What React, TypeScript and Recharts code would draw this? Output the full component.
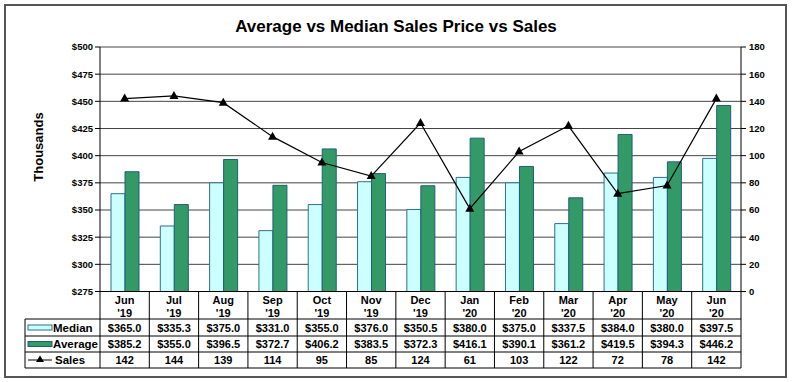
import { ComposedChart, Bar, Line, XAxis, YAxis, CartesianGrid } from 'recharts'

// ─── Data ────────────────────────────────────────────────────────────────
const months = ['Jun', 'Jul', 'Aug', 'Sep', 'Oct', 'Nov', 'Dec', 'Jan', 'Feb', 'Mar', 'Apr', 'May', 'Jun']
const years = ["'19", "'19", "'19", "'19", "'19", "'19", "'19", "'20", "'20", "'20", "'20", "'20", "'20"]
const median = [365.0, 335.3, 375.0, 331.0, 355.0, 376.0, 350.5, 380.0, 375.0, 337.5, 384.0, 380.0, 397.5]
const average = [385.2, 355.0, 396.5, 372.7, 406.2, 383.5, 372.3, 416.1, 390.1, 361.2, 419.5, 394.3, 446.2]
const sales = [142, 144, 139, 114, 95, 85, 124, 61, 103, 122, 72, 78, 142]

const priceTicks = [275, 300, 325, 350, 375, 400, 425, 450, 475, 500]
const salesTicks = [0, 20, 40, 60, 80, 100, 120, 140, 160, 180]

const data = months.map((m, i) => ({
  key: `${m} ${years[i]}`,
  median: median[i],
  average: average[i],
  sales: sales[i],
}))

// ─── Layout ──────────────────────────────────────────────────────────────
const FONT = '"Liberation Sans", Arial, sans-serif'
const W = 792
const H = 382
const PLOT_L = 100
const PLOT_R = 741
const PLOT_T = 47
const PLOT_B = 291.5
const COL_W = (PLOT_R - PLOT_L) / months.length
const TABLE_L = 25
const ROWS = [319, 336, 352, 368]

const MEDIAN_FILL = '#CCFFFF'
const MEDIAN_STROKE = '#2F6E8E'
const AVG_FILL = '#339966'
const AVG_STROKE = '#1F5F7A'

function TriangleDot(props: { cx?: number; cy?: number; index?: number }) {
  const { cx, cy, index } = props
  if (cx == null || cy == null) return null
  return <path key={index} d={`M${cx},${cy - 5} L${cx + 4.5},${cy + 3} L${cx - 4.5},${cy + 3} Z`} fill="#000" />
}

// two-line month label, placed from the axis line rather than the tick offset
function MonthTick(props: { x?: number; payload?: { value: string } }) {
  const { x = 0, payload } = props
  const [m, yr] = String(payload?.value ?? '').split(' ')
  return (
    <g>
      <text x={x} y={PLOT_B + 12} textAnchor="middle" fontSize={11} fontWeight={700} fontFamily={FONT} fill="#000">
        {m}
      </text>
      <text x={x} y={PLOT_B + 25} textAnchor="middle" fontSize={11} fontWeight={700} fontFamily={FONT} fill="#000">
        {yr}
      </text>
    </g>
  )
}

const cellText = { fontSize: 11, fontWeight: 700, fontFamily: FONT, fill: '#000' }

export default function App() {
  const rowVals = [
    median.map((v) => `$${v.toFixed(1)}`),
    average.map((v) => `$${v.toFixed(1)}`),
    sales.map((v) => String(v)),
  ]

  return (
    <div style={{ position: 'absolute', left: 0, top: 0, width: W, height: H, background: '#fff', fontFamily: FONT }}>
      {/* Title */}
      <div
        style={{
          position: 'absolute',
          left: 0,
          width: W,
          top: 17,
          textAlign: 'center',
          fontSize: 17,
          fontWeight: 700,
        }}
      >
        Average vs Median Sales Price vs Sales
      </div>

      <ComposedChart
        width={W}
        height={H}
        data={data}
        margin={{ top: PLOT_T, left: PLOT_L - 40, right: W - PLOT_R - 40, bottom: H - PLOT_B - 28 }}
        barGap={0}
        barSize={14}
      >
        <CartesianGrid vertical={false} stroke="#444" strokeWidth={1} yAxisId="price" />
        <XAxis
          dataKey="key"
          height={28}
          axisLine={{ stroke: '#000' }}
          tickLine={false}
          tick={<MonthTick />}
          interval={0}
        />
        <YAxis
          yAxisId="price"
          width={40}
          domain={[275, 500]}
          ticks={priceTicks}
          allowDataOverflow
          tickFormatter={(v: number) => `$${v}`}
          tick={{ fontSize: 9.5, fontWeight: 700, fontFamily: FONT, fill: '#000' }}
          axisLine={{ stroke: '#000' }}
          tickLine={{ stroke: '#000' }}
          tickSize={5}
        />
        <YAxis
          yAxisId="sales"
          orientation="right"
          width={40}
          domain={[0, 180]}
          ticks={salesTicks}
          tick={{ fontSize: 9.5, fontWeight: 700, fontFamily: FONT, fill: '#000' }}
          axisLine={{ stroke: '#000' }}
          tickLine={{ stroke: '#000' }}
          tickSize={5}
          tickMargin={3}
        />
        <Bar yAxisId="price" dataKey="median" fill={MEDIAN_FILL} stroke={MEDIAN_STROKE} strokeWidth={1} isAnimationActive={false} />
        <Bar yAxisId="price" dataKey="average" fill={AVG_FILL} stroke={AVG_STROKE} strokeWidth={1} isAnimationActive={false} />
        <Line
          yAxisId="sales"
          dataKey="sales"
          stroke="#000"
          strokeWidth={1.2}
          dot={<TriangleDot />}
          activeDot={false}
          isAnimationActive={false}
        />
      </ComposedChart>

      {/* Y axis title */}
      <div
        style={{
          position: 'absolute',
          left: 38,
          top: 147,
          transform: 'translate(-50%, -50%) rotate(-90deg)',
          fontSize: 13,
          fontWeight: 700,
          whiteSpace: 'nowrap',
        }}
      >
        Thousands
      </div>

      {/* Data table + frame */}
      <svg width={W} height={H} style={{ position: 'absolute', left: 0, top: 0, pointerEvents: 'none' }}>
        <rect x={5} y={5} width={781} height={372} fill="none" stroke="#555" strokeWidth={2} />
        {months.map((_, i) => (
          <line
            key={`v${i}`}
            x1={PLOT_L + i * COL_W}
            x2={PLOT_L + i * COL_W}
            y1={PLOT_B}
            y2={ROWS[3]}
            stroke="#000"
          />
        ))}
        <line x1={PLOT_R} x2={PLOT_R} y1={PLOT_B} y2={ROWS[3]} stroke="#000" />
        <line x1={TABLE_L} x2={TABLE_L} y1={ROWS[0]} y2={ROWS[3]} stroke="#000" />
        {ROWS.map((y) => (
          <line key={`h${y}`} x1={TABLE_L} x2={PLOT_R} y1={y} y2={y} stroke="#000" />
        ))}
        {rowVals.map((vals, r) =>
          vals.map((v, i) => (
            <text
              key={`c${r}-${i}`}
              x={PLOT_L + (i + 0.5) * COL_W}
              y={(ROWS[r] + ROWS[r + 1]) / 2 + 4}
              textAnchor="middle"
              {...cellText}
            >
              {v}
            </text>
          )),
        )}
        {/* legend cells */}
        <rect x={28} y={325} width={24} height={5} fill={MEDIAN_FILL} stroke={MEDIAN_STROKE} />
        <text x={53} y={331.5} {...cellText} fontSize={11.5}>Median</text>
        <rect x={28} y={341.5} width={24} height={5} fill={AVG_FILL} stroke={AVG_STROKE} />
        <text x={53} y={348} {...cellText} fontSize={11.5}>Average</text>
        <line x1={28} x2={52} y1={360} y2={360} stroke="#000" />
        <path d="M40,355.5 L44,362 L36,362 Z" fill="#000" />
        <text x={55} y={364} {...cellText} fontSize={11.5}>Sales</text>
      </svg>
    </div>
  )
}
